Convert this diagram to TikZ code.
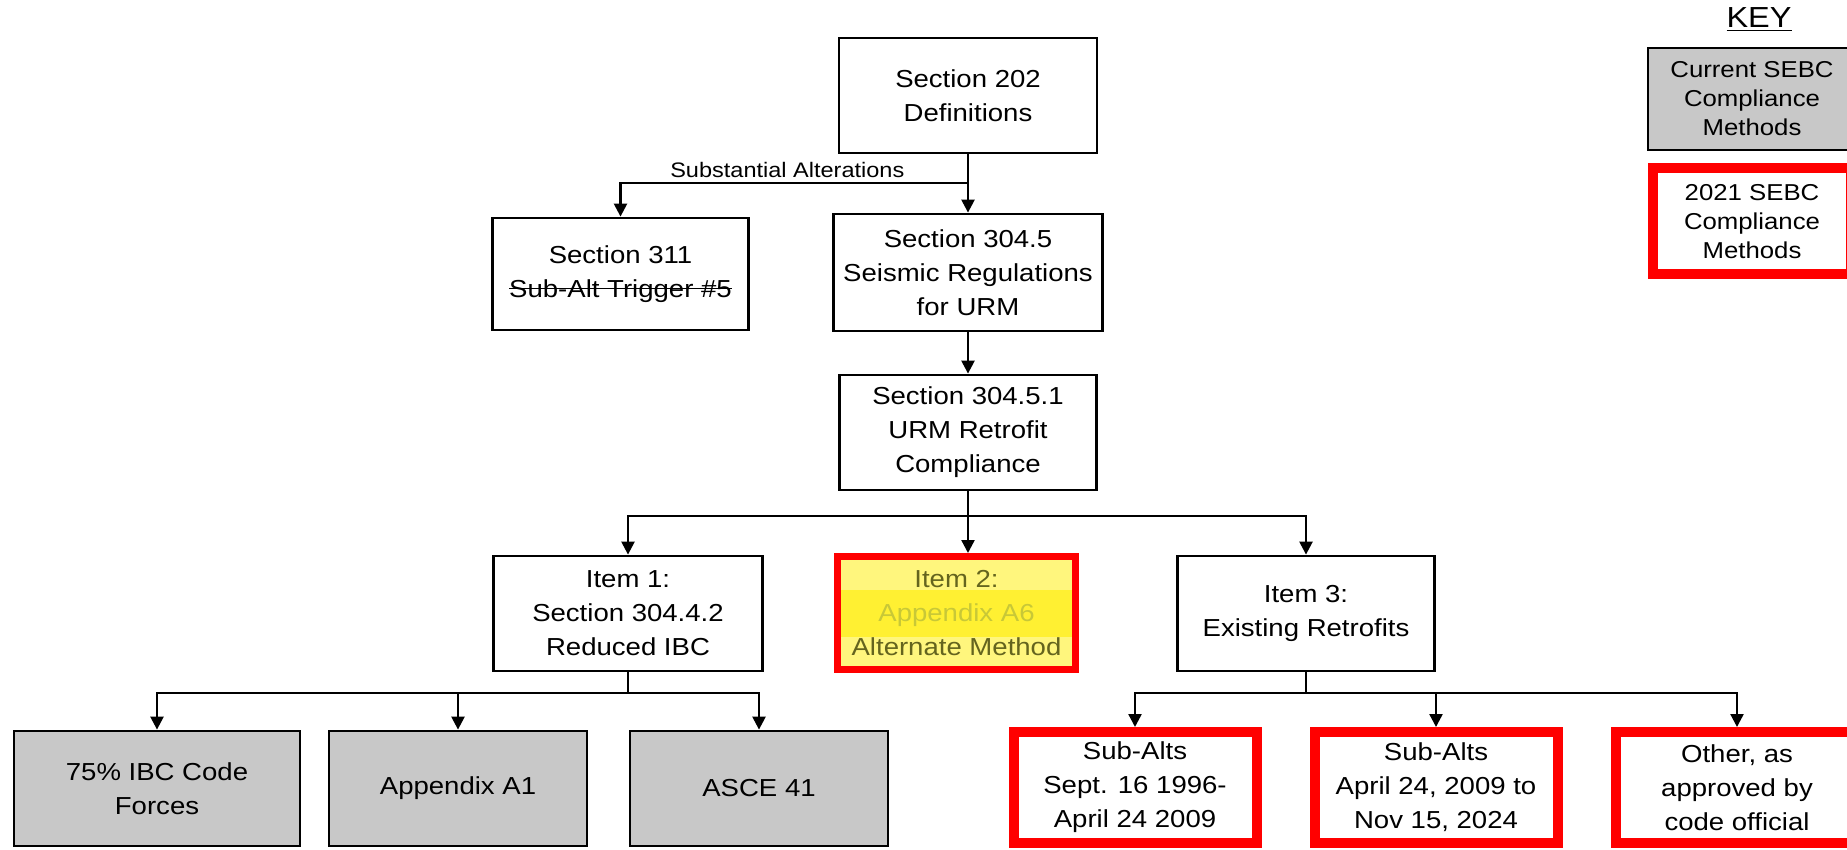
\documentclass[tikz,border=0pt]{standalone}
\usepackage{fontspec}
\setmainfont{Liberation Sans}[FakeStretch=1.12]
\usepackage{xcolor}
\usetikzlibrary{arrows.meta}
\usetikzlibrary{positioning}

\definecolor{boxgrey}{RGB}{200,200,200}
\definecolor{hlyellow}{RGB}{255,246,125}
\definecolor{hlband}{RGB}{255,240,50}
\definecolor{hltext}{RGB}{100,100,30}
\definecolor{hlfaint}{RGB}{200,200,55}
\newcommand{\strk}[1]{\sbox0{#1}\rlap{\usebox0}\rule[0.33em]{\wd0}{0.6pt}}

\begin{document}
\begin{tikzpicture}[x=0.5pt,y=-0.5pt,semithick,font=\fontsize{12.3}{17}\selectfont]
 				 \tikzstyle{box}=[draw, line width=1.4pt, align=center, inner sep=0pt, minimum width=129pt, minimum height=57.5pt]
 				 \tikzstyle{oldbox}=[box, fill=boxgrey]
 				 \tikzstyle{newbox}=[box, draw=red, line width=5pt, fill=white, minimum width=121.5pt, minimum height=55.5pt]
 				 \tikzstyle{arr}=[-{Triangle[length=6.5pt,width=6.5pt]}, line width=1.2pt]
 				 \tikzstyle{ln}=[-, line width=1.2pt]
						\useasboundingbox (0,0) rectangle (1847,850);

						% top of the tree
						\node[box] (S202) at (968,95.5) {Section 202\\Definitions};
						\node[box, minimum width=128pt, minimum height=56pt] (S311) at (620.5,274) {Section 311\\\strk{Sub-Alt Trigger \#5}};
						\node[box, minimum width=134.5pt, minimum height=58.5pt] (S3045) at (968,272.5) {Section 304.5\\Seismic Regulations\\for URM};
						\node[box, minimum width=128.5pt] (S30451) at (968,432.5) {Section 304.5.1\\URM Retrofit\\Compliance};

						% items
						\node[box, minimum width=134.5pt] (I1) at (628,613.5) {Item 1:\\Section 304.4.2\\Reduced IBC};
						\node[box, draw=red, line width=3.5pt, fill=hlyellow, minimum width=119pt, minimum height=56.5pt,
						      path picture={\fill[hlband] ([yshift=11.5pt]path picture bounding box.west) rectangle ([yshift=-12pt]path picture bounding box.east);}]
						      (I2) at (956.5,613) {\textcolor{hltext}{Item 2:}\\\textcolor{hlfaint}{Appendix A6}\\\textcolor{hltext}{Alternate Method}};
						\node[box, minimum width=128.5pt] (I3) at (1306,613.5) {Item 3:\\Existing Retrofits};

						% methods
						\node[oldbox, minimum width=143pt] (M1) at (157,788.5) {75\% IBC Code\\Forces};
						\node[oldbox] (M2) at (458,788.5) {Appendix A1};
						\node[oldbox] (M3) at (759,788.5) {ASCE 41};
						\node[newbox] (N1) at (1135,787.5) {Sub-Alts\\Sept. 16 1996-\\April 24 2009};
						\node[newbox] (N2) at (1436,787.5) {Sub-Alts\\April 24, 2009 to\\Nov 15, 2024};
						\node[newbox] (N3) at (1737,787.5) {Other, as\\approved by\\code official};

						% key
						\node[font=\fontsize{14.5}{17}\selectfont] (K) at (1759,20) {\underline{KEY}};
						\node[oldbox, line width=1.2pt, minimum width=104pt, minimum height=51pt, font=\fontsize{11.5}{14.5}\selectfont] (KA) at (1752,99) {Current SEBC\\Compliance\\Methods};
						\node[newbox, minimum width=99pt, minimum height=53pt, font=\fontsize{11.5}{14.5}\selectfont] (KB) [below=6pt of KA] {2021 SEBC\\Compliance\\Methods};

						% junctions
						\coordinate (J0) at (968,183);
						\coordinate (J1) at (968,516);
						\coordinate (J2) at (628,693);
						\coordinate (J3) at (1306,693);

						\path[arr]
							(S202) edge (S3045)
							(S3045) edge (S30451);
						\draw[arr] (J0) -| node[above, pos=0.26, inner sep=2pt, font=\fontsize{10.5}{12}\selectfont] {Substantial Alterations} (S311);
						\draw[ln] (S30451) -- (J1);
						\draw[arr] (J1) -| (I1);
						\draw[arr] (J1) -- (J1 |- I2.north);
						\draw[arr] (J1) -| (I3);
						\draw[ln] (I1) -- (J2);
						\draw[arr] (J2) -| (M1);
						\draw[arr] (J2) -| (M2);
						\draw[arr] (J2) -| (M3);
						\draw[ln] (I3) -- (J3);
						\draw[arr] (J3) -| (N1);
						\draw[arr] (J3) -| (N2);
						\draw[arr] (J3) -| (N3);
 				\end{tikzpicture}
\end{document}
